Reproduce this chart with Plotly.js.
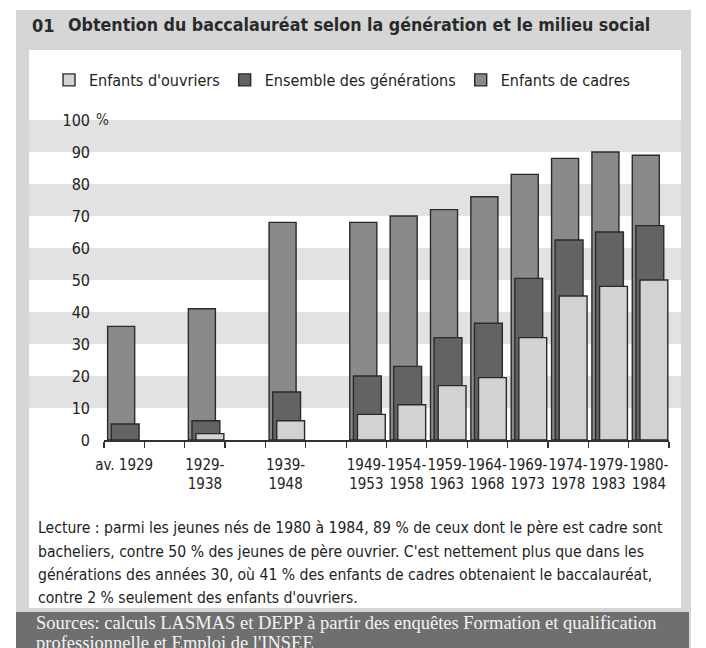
<!DOCTYPE html>
<html>
<head>
<meta charset="utf-8">
<script src="https://cdn.plot.ly/plotly-3.0.1.min.js"></script>
<style>
  html, body { margin: 0; padding: 0; background: #ffffff; }
  #chart { width: 706px; height: 648px; }
</style>
</head>
<body>
<div id="chart"></div>
<script>
// ---- Data ----
const generations = ["av. 1929", "gap1", "1929-1938", "gap2", "1939-1948", "gap3",
  "1949-1953", "1954-1958", "1959-1963", "1964-1968", "1969-1973", "1974-1978", "1979-1983", "1980-1984"];
const tickLabels = ["av. 1929", "", "1929-<br>1938", "", "1939-<br>1948", "",
  "1949-<br>1953", "1954-<br>1958", "1959-<br>1963", "1964-<br>1968", "1969-<br>1973", "1974-<br>1978", "1979-<br>1983", "1980-<br>1984"];
const enfantsCadres   = [35.5, null, 41, null, 68, null, 68, 70, 72, 76, 83, 88, 90, 89];
const ensembleGen     = [5, null, 6, null, 15, null, 20, 23, 32, 36.5, 50.5, 62.5, 65, 67];
const enfantsOuvriers = [null, null, 2, null, 6, null, 8, 11, 17, 19.5, 32, 45, 48, 50];
const yTickVals = [0, 10, 20, 30, 40, 50, 60, 70, 80, 90, 100];
const yTickText = ["0", "10", "20", "30", "40", "50", "60", "70", "80", "90", "100"];
const bandRanges = [[10, 20], [30, 40], [50, 60], [70, 80], [90, 100]];

const titleNum = "01";
const titleText = "Obtention du baccalauréat selon la génération et le milieu social";
const lectureLines = [
  "Lecture : parmi les jeunes nés de 1980 à 1984, 89 % de ceux dont le père est cadre sont",
  "bacheliers, contre 50 % des jeunes de père ouvrier. C'est nettement plus que dans les",
  "générations des années 30, où 41 % des enfants de cadres obtenaient le baccalauréat,",
  "contre 2 % seulement des enfants d'ouvriers."
];
const sourceLines = [
  "Sources: calculs LASMAS et DEPP à partir des enquêtes Formation et qualification",
  "professionnelle et Emploi de l'INSEE"
];

// ---- Layout helpers (figure 706x648, plot area 104..669 x 120..440) ----
const W = 706, H = 648, L = 104, R = 37, T = 120, B = 208;
const PW = W - L - R, PH = H - T - B;
const px = x => (x - L) / PW;
const py = y => (H - B - y) / PH;

const NARROW = "'DejaVu Sans Condensed', 'Liberation Sans Narrow', 'Arial Narrow', sans-serif";
const SERIF = "'Liberation Serif', 'DejaVu Serif', serif";
const lineStyle = { color: "#2a2a2a", width: 1.4 };

const traces = [
  { type: "bar", name: "Enfants de cadres", x: generations, y: enfantsCadres,
    width: 0.67, offset: -0.41,
    marker: { color: "#8a8a8a", line: lineStyle } },
  { type: "bar", name: "Ensemble des générations", x: generations, y: ensembleGen,
    width: 0.69, offset: -0.32,
    marker: { color: "#636363", line: lineStyle } },
  { type: "bar", name: "Enfants d'ouvriers", x: generations, y: enfantsOuvriers,
    width: 0.69, offset: -0.22,
    marker: { color: "#d2d2d2", line: lineStyle } }
];

const shapes = [
  { type: "rect", xref: "paper", yref: "paper", x0: px(16), x1: px(691), y0: py(670), y1: py(10),
    fillcolor: "#d6d6d6", line: { width: 0 }, layer: "below" },
  { type: "rect", xref: "paper", yref: "paper", x0: px(29), x1: px(681), y0: py(608), y1: py(50),
    fillcolor: "#ffffff", line: { width: 0 }, layer: "below" },
  { type: "rect", xref: "paper", yref: "paper", x0: px(16), x1: px(689), y0: py(670), y1: py(612),
    fillcolor: "#6f6f6f", line: { width: 0 }, layer: "below" }
];
bandRanges.forEach(b => shapes.push({
  type: "rect", xref: "paper", yref: "y", x0: px(29), x1: px(681), y0: b[0], y1: b[1],
  fillcolor: "#e2e2e2", line: { width: 0 }, layer: "below"
}));

const annotations = [
  { text: "<b>" + titleNum + "</b>", xref: "paper", yref: "paper", x: px(30), y: py(25),
    xanchor: "left", yanchor: "middle", showarrow: false,
    font: { family: NARROW, size: 18, color: "#2a2a2a" } },
  { text: "<b>" + titleText + "</b>", xref: "paper", yref: "paper", x: px(66), y: py(25),
    xanchor: "left", yanchor: "middle", showarrow: false,
    font: { family: NARROW, size: 17.7, color: "#2a2a2a" } },
  { text: "%", xref: "paper", yref: "y", x: px(94), y: 100,
    xanchor: "left", yanchor: "middle", showarrow: false,
    font: { family: NARROW, size: 15, color: "#333" } }
];
const lectureY = [528, 552, 575, 598];
lectureLines.forEach((t, i) => annotations.push({
  text: t, xref: "paper", yref: "paper", x: px(36), y: py(lectureY[i]),
  xanchor: "left", yanchor: "middle", align: "left", showarrow: false,
  font: { family: NARROW, size: 15.6, color: "#222" }
}));
const sourceY = [623, 643];
sourceLines.forEach((t, i) => annotations.push({
  text: t, xref: "paper", yref: "paper", x: px(34), y: py(sourceY[i]),
  xanchor: "left", yanchor: "middle", align: "left", showarrow: false,
  font: { family: SERIF, size: 18.5, color: "#f4f4f4" }
}));

const layout = {
  width: W, height: H,
  margin: { l: L, r: R, t: T, b: B, pad: 0 },
  paper_bgcolor: "#ffffff",
  plot_bgcolor: "rgba(0,0,0,0)",
  barmode: "overlay",
  showlegend: true,
  legend: {
    orientation: "h", traceorder: "reversed",
    x: px(49), y: py(80), xanchor: "left", yanchor: "middle",
    font: { family: NARROW, size: 16, color: "#222" },
    bgcolor: "rgba(0,0,0,0)", itemwidth: 30
  },
  xaxis: {
    type: "category",
    tickvals: generations, ticktext: tickLabels, tickangle: 0,
    tickson: "boundaries", ticks: "outside", ticklen: 6, tickcolor: "#333", tickwidth: 1.2,
    showline: true, linecolor: "#333", linewidth: 1.5,
    showgrid: false, zeroline: false,
    ticklabelstandoff: 10,
    tickfont: { family: NARROW, size: 15, color: "#222" }
  },
  yaxis: {
    range: [0, 100],
    tickvals: yTickVals, ticktext: yTickText,
    ticks: "", showline: false, showgrid: false, zeroline: false,
    ticklabelstandoff: 13,
    tickfont: { family: NARROW, size: 16, color: "#222" }
  },
  shapes: shapes,
  annotations: annotations
};

Plotly.newPlot("chart", traces, layout, { staticPlot: true, displayModeBar: false });
</script>
</body>
</html>
